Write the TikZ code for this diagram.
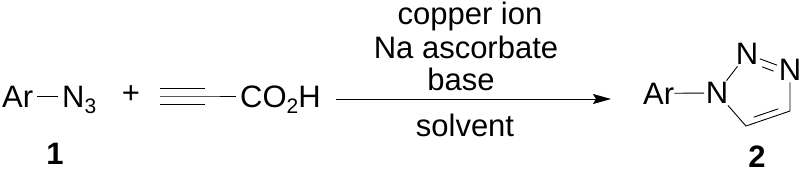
\documentclass[tikz,border=0pt]{standalone}
\usepackage{fontspec}
\setmainfont{Liberation Sans}
\usetikzlibrary{arrows.meta,calc}
\newcommand{\bigtxt}{\fontsize{31}{31}\selectfont}
\newcommand{\subtxt}[1]{\raisebox{-6pt}{\fontsize{21}{21}\selectfont #1}}
\begin{document}
\begin{tikzpicture}[x=1pt,y=-1pt,
  txt/.style={inner sep=0pt,font=\bigtxt},
  atom/.style={inner sep=1.5pt,font=\bigtxt},
  lbl/.style={inner sep=0pt,font=\bigtxt\bfseries},
  bond/.style={line width=0.9pt},
  rxn/.style={line width=0.9pt,-{Stealth[length=18pt,width=10pt,inset=3pt]}}]
\useasboundingbox (0,0) rectangle (800,175);
% reactant 1
\node[txt,anchor=base west] (ar1) at (2,107) {Ar};
\node[txt,anchor=base west] (n3) at (62,107) {N\subtxt{3}};
\draw[bond] ($(ar1.east)+(4,0)$) -- ($(ar1.east -| n3.west)+(-4,0)$);
\node[lbl,anchor=base] (l1) at (55,164) {1};
\node[txt] (plus) at (131,95) {+};
% reactant 2
\coordinate (ta) at (160,96);
\coordinate (tb) at (205,96);
\node[txt,anchor=base west] (co2h) at (240,107) {CO\subtxt{2}H};
\draw[bond] ($(ta)+(0,-8)$) -- ($(tb)+(0,-8)$);
\draw[bond] ($(ta)+(0,8)$) -- ($(tb)+(0,8)$);
\draw[bond] (ta) -- (tb) -- ($(tb -| co2h.west)+(-4,0)$);
% arrow
\coordinate (a1) at (336,99);
\coordinate (a2) at (611,99);
\draw[rxn] (a1) -- (a2);
\node[txt,anchor=base] (c1) at (470,24) {copper ion};
\node[txt,anchor=base] (c2) at (466,58) {Na ascorbate};
\node[txt,anchor=base] (c3) at (461,90) {base};
\node[txt,anchor=base] (c4) at (465,136) {solvent};
% product
\node[txt,anchor=base west] (ar2) at (643,104) {Ar};
\node[atom] (pn1) at (717,93) {N};
\node[atom] (pn2) at (747,54) {N};
\node[atom] (pn3) at (790,70) {N};
\coordinate (pc4) at (790,111);
\coordinate (pc5) at (746,126);
\coordinate (ctr) at (758,91);
\draw[bond] (ar2) -- (pn1);
\draw[bond] (pn1) -- (pn2);
\draw[bond] (pn2) -- (pn3);
\draw[bond] (pn3) -- (pc4) -- (pc5) -- (pn1);
\draw[bond] ($($(pn2)!0.38!(pn3)$)!0.22!(ctr)$) -- ($($(pn2)!0.72!(pn3)$)!0.22!(ctr)$);
\draw[bond] ($($(pc5)!0.15!(pc4)$)!0.2!(ctr)$) -- ($($(pc5)!0.85!(pc4)$)!0.2!(ctr)$);
\node[lbl,anchor=base] (l2) at (757,167) {2};
\end{tikzpicture}
\end{document}
